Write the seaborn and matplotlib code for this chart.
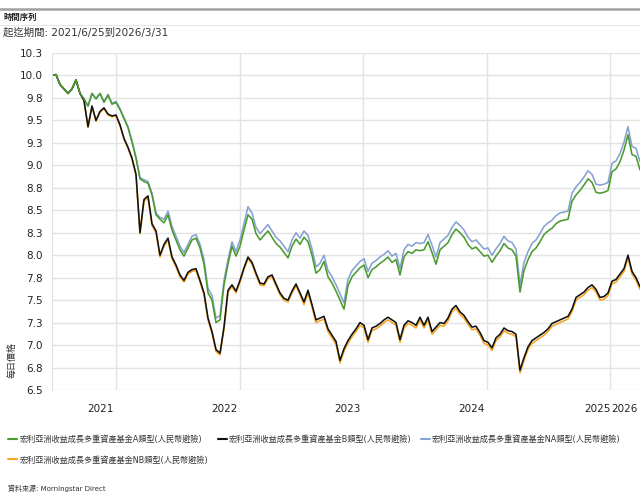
import pandas as pd
import numpy as np
import matplotlib
matplotlib.use('Agg')
import matplotlib.pyplot as plt
from matplotlib.lines import Line2D
import seaborn as sns

# =====================================================
# Datos (muestreo ~ cada 12 días)
# =====================================================
start_date = '2021-06-25'
end_date = '2026-03-31'

names = ['宏利亞洲收益成長多重資產基金A類型(人民幣避險)',
         '宏利亞洲收益成長多重資產基金B類型(人民幣避險)',
         '宏利亞洲收益成長多重資產基金NA類型(人民幣避險)',
         '宏利亞洲收益成長多重資產基金NB類型(人民幣避險)']
colors = ['#4a9a2e', '#111111', '#86a2d2', '#f7a520']

serie_a = [10.00, 10.01, 9.90, 9.85, 9.80, 9.85, 9.95, 9.80, 9.74, 9.66, 9.80, 9.74, 9.80, 9.70, 9.78, 9.68,
           9.70, 9.62, 9.52, 9.42, 9.26, 9.08, 8.85, 8.82, 8.80, 8.67, 8.45, 8.40, 8.36, 8.45, 8.28, 8.17,
           8.06, 7.99, 8.08, 8.17, 8.19, 8.08, 7.90, 7.58, 7.50, 7.25, 7.28, 7.67, 7.90, 8.10, 7.99, 8.10,
           8.28, 8.45, 8.40, 8.24, 8.17, 8.22, 8.27, 8.20, 8.13, 8.09, 8.03, 7.97, 8.10, 8.18, 8.12, 8.20,
           8.15, 8.00, 7.80, 7.84, 7.93, 7.76, 7.69, 7.60, 7.50, 7.40, 7.66, 7.76, 7.81, 7.86, 7.89, 7.75,
           7.84, 7.87, 7.91, 7.94, 7.98, 7.92, 7.95, 7.78, 7.98, 8.04, 8.02, 8.06, 8.05, 8.06, 8.15, 8.03,
           7.90, 8.06, 8.10, 8.14, 8.23, 8.29, 8.25, 8.20, 8.12, 8.07, 8.09, 8.04, 7.99, 8.00, 7.92, 7.99,
           8.05, 8.13, 8.08, 8.06, 7.99, 7.59, 7.83, 7.95, 8.04, 8.08, 8.15, 8.23, 8.27, 8.30, 8.35, 8.38,
           8.39, 8.40, 8.60, 8.67, 8.72, 8.78, 8.85, 8.81, 8.70, 8.69, 8.70, 8.72, 8.93, 8.96, 9.04, 9.17,
           9.34, 9.12, 9.10, 8.95]

serie_b = [10.00, 10.01, 9.90, 9.85, 9.80, 9.85, 9.95, 9.80, 9.72, 9.43, 9.66, 9.50, 9.60, 9.64, 9.57, 9.55,
           9.56, 9.45, 9.30, 9.20, 9.08, 8.90, 8.25, 8.62, 8.66, 8.35, 8.27, 8.00, 8.12, 8.19, 7.98, 7.89,
           7.78, 7.72, 7.81, 7.84, 7.85, 7.72, 7.58, 7.30, 7.15, 6.95, 6.91, 7.20, 7.61, 7.67, 7.60, 7.72,
           7.86, 7.98, 7.92, 7.80, 7.69, 7.68, 7.76, 7.78, 7.68, 7.58, 7.52, 7.50, 7.60, 7.68, 7.58, 7.48,
           7.61, 7.45, 7.28, 7.30, 7.32, 7.18, 7.11, 7.04, 6.83, 6.96, 7.05, 7.12, 7.18, 7.25, 7.22, 7.06,
           7.19, 7.21, 7.24, 7.28, 7.31, 7.28, 7.25, 7.06, 7.22, 7.27, 7.25, 7.22, 7.31, 7.22, 7.31, 7.15,
           7.20, 7.25, 7.24, 7.30, 7.40, 7.44, 7.37, 7.33, 7.26, 7.20, 7.21, 7.14, 7.05, 7.03, 6.97, 7.08,
           7.12, 7.19, 7.16, 7.15, 7.12, 6.72, 6.86, 6.98, 7.05, 7.08, 7.11, 7.14, 7.18, 7.24, 7.26, 7.28,
           7.30, 7.32, 7.40, 7.53, 7.56, 7.59, 7.64, 7.67, 7.62, 7.53, 7.54, 7.58, 7.71, 7.73, 7.79, 7.85,
           8.00, 7.82, 7.75, 7.65]

serie_na = [10.00, 10.01, 9.90, 9.85, 9.80, 9.85, 9.95, 9.80, 9.74, 9.66, 9.80, 9.74, 9.80, 9.71, 9.79, 9.69,
            9.71, 9.63, 9.53, 9.43, 9.27, 9.09, 8.86, 8.84, 8.82, 8.69, 8.47, 8.42, 8.40, 8.49, 8.32, 8.21,
            8.10, 8.03, 8.12, 8.21, 8.23, 8.12, 7.95, 7.63, 7.55, 7.30, 7.33, 7.72, 7.95, 8.15, 8.04, 8.17,
            8.35, 8.54, 8.47, 8.31, 8.24, 8.29, 8.34, 8.27, 8.20, 8.16, 8.10, 8.04, 8.17, 8.25, 8.19, 8.27,
            8.22, 8.07, 7.87, 7.91, 8.00, 7.83, 7.76, 7.67, 7.57, 7.47, 7.73, 7.83, 7.88, 7.93, 7.96, 7.82,
            7.91, 7.94, 7.98, 8.01, 8.05, 7.99, 8.02, 7.85, 8.06, 8.12, 8.10, 8.14, 8.13, 8.14, 8.23, 8.11,
            7.98, 8.14, 8.18, 8.22, 8.31, 8.37, 8.33, 8.28, 8.20, 8.15, 8.17, 8.12, 8.07, 8.08, 8.00, 8.07,
            8.13, 8.21, 8.16, 8.14, 8.07, 7.67, 7.92, 8.04, 8.13, 8.17, 8.24, 8.32, 8.36, 8.39, 8.44, 8.47,
            8.48, 8.49, 8.69, 8.76, 8.81, 8.87, 8.94, 8.90, 8.79, 8.78, 8.79, 8.81, 9.02, 9.05, 9.13, 9.26,
            9.43, 9.21, 9.19, 9.04]

serie_nb = [10.00, 10.01, 9.90, 9.85, 9.80, 9.85, 9.95, 9.80, 9.72, 9.42, 9.65, 9.49, 9.59, 9.63, 9.56, 9.54,
            9.55, 9.44, 9.29, 9.19, 9.07, 8.89, 8.24, 8.60, 8.64, 8.33, 8.25, 7.98, 8.10, 8.17, 7.96, 7.87,
            7.76, 7.70, 7.79, 7.82, 7.83, 7.70, 7.56, 7.28, 7.13, 6.93, 6.89, 7.18, 7.59, 7.65, 7.58, 7.70,
            7.84, 7.96, 7.90, 7.78, 7.67, 7.66, 7.74, 7.76, 7.66, 7.56, 7.50, 7.48, 7.58, 7.66, 7.56, 7.45,
            7.58, 7.42, 7.25, 7.27, 7.29, 7.15, 7.08, 7.01, 6.80, 6.93, 7.02, 7.09, 7.15, 7.22, 7.19, 7.03,
            7.16, 7.18, 7.21, 7.25, 7.28, 7.25, 7.22, 7.03, 7.19, 7.24, 7.22, 7.19, 7.28, 7.19, 7.28, 7.12,
            7.17, 7.22, 7.21, 7.27, 7.37, 7.41, 7.34, 7.30, 7.23, 7.17, 7.18, 7.11, 7.02, 7.00, 6.94, 7.05,
            7.09, 7.16, 7.13, 7.12, 7.09, 6.69, 6.83, 6.95, 7.02, 7.05, 7.08, 7.11, 7.15, 7.21, 7.23, 7.25,
            7.27, 7.29, 7.37, 7.50, 7.53, 7.56, 7.61, 7.64, 7.59, 7.50, 7.51, 7.55, 7.68, 7.70, 7.76, 7.82,
            7.97, 7.79, 7.72, 7.62]

y_ticks = [6.5, 6.75, 7.0, 7.25, 7.5, 7.75, 8.0, 8.25, 8.5, 8.75, 9.0, 9.25, 9.5, 9.75, 10.0, 10.25]
y_ticklabels = ['6.5', '6.8', '7.0', '7.3', '7.5', '7.8', '8.0', '8.3', '8.5', '8.8', '9.0', '9.3',
                '9.5', '9.8', '10.0', '10.3']
grid_dates = ['2022-01-01', '2023-01-01', '2024-01-01', '2025-01-01', '2026-01-01']
x_label_dates = ['2021-11-14', '2022-11-16', '2023-11-15', '2024-11-16', '2025-11-25', '2026-02-14']
x_labels = ['2021', '2022', '2023', '2024', '2025', '2026']

# =====================================================
# Estilo
# =====================================================
sns.set_style('white')
plt.rcParams['font.family'] = ['DejaVu Sans', 'Noto Sans CJK TC']

dates = pd.date_range(start_date, end_date, periods=len(serie_a))
df = pd.DataFrame({'fecha': dates, names[0]: serie_a, names[1]: serie_b,
                   names[2]: serie_na, names[3]: serie_nb})
df_long = df.melt(id_vars='fecha', var_name='serie', value_name='precio')

fig = plt.figure(figsize=(6.4, 4.93), dpi=100)
ax = fig.add_axes([52 / 640, 103 / 493, 588 / 640, 337 / 493])

# dibujar en orden inverso (A queda encima)
for name, col in reversed(list(zip(names, colors))):
    sub = df_long[df_long['serie'] == name]
    sns.lineplot(data=sub, x='fecha', y='precio', color=col, lw=1.15, ax=ax, legend=False)

ax.set_ylim(6.5, 10.25)
ax.set_xlim(pd.Timestamp(start_date), pd.Timestamp(end_date))
ax.set_yticks(y_ticks)
ax.set_yticklabels(y_ticklabels)
ax.set_xticks(pd.to_datetime(grid_dates))
ax.set_xticklabels([''] * len(grid_dates))
ax.set_xticks(pd.to_datetime(x_label_dates), minor=True)
ax.set_xticklabels(x_labels, minor=True)
ax.tick_params(axis='x', which='minor', length=0, pad=10, labelsize=7.5, colors='#222222')
ax.tick_params(axis='x', which='major', length=4, color='#dddddd')
ax.tick_params(axis='y', length=5, color='#dddddd', pad=1.5, labelsize=7.5, labelcolor='#222222')
ax.set_xlabel('')
ax.set_ylabel('')
ax.grid(True, which='major', color='#e3e3e3', lw=1)
ax.set_axisbelow(True)
for s in ['top', 'right', 'bottom']:
    ax.spines[s].set_visible(False)
ax.spines['left'].set_color('#e3e3e3')

fig.text(0.012, 1 - 360 / 493, '每日價格', rotation=90, fontsize=6.5, va='center', ha='left', color='#333333')

# encabezado
fig.add_artist(Line2D([0, 1], [1 - 9 / 493, 1 - 9 / 493], transform=fig.transFigure, color='#a0a0a0', lw=1.8))
fig.add_artist(Line2D([0, 1], [1 - 25 / 493, 1 - 25 / 493], transform=fig.transFigure, color='#e6e6e6', lw=0.8))
fig.text(0.005, 1 - 17 / 493, '時間序列', fontsize=6, fontweight='bold', va='center', ha='left', color='#222222')
fig.text(0.005, 1 - 33 / 493, '起迄期間: 2021/6/25到2026/3/31', fontsize=7.5, va='center', ha='left', color='#333333')

# leyenda (orden por filas: A, B, NA / NB)
order = [0, 3, 1, 2]
handles = [Line2D([0], [0], color=colors[i], lw=1.5) for i in order]
labels = [names[i] for i in order]
fig.legend(handles, labels, loc='upper left', bbox_to_anchor=(0.008, 1 - 432 / 493), ncol=3,
           fontsize=5.9, frameon=False, handlelength=1.1, handletextpad=0.3, columnspacing=1.1,
           labelspacing=1.35, borderaxespad=0, labelcolor='#333333')

fig.text(0.012, 1 - 488 / 493, '資料來源: Morningstar Direct', fontsize=5, va='center', ha='left', color='#333333')

plt.savefig('out.png', dpi=100)
plt.close()
